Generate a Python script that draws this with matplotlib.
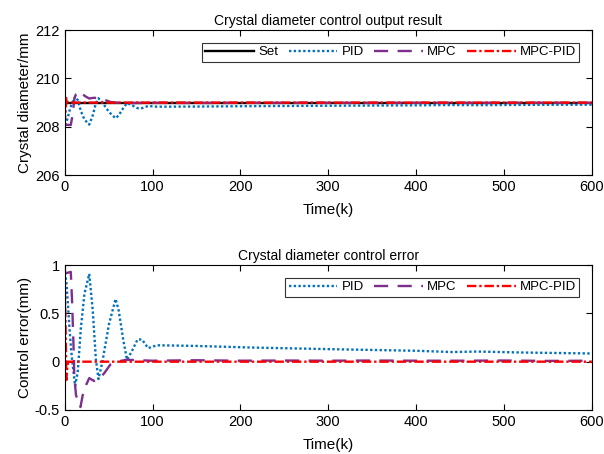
import matplotlib
matplotlib.use("Agg")
import matplotlib.pyplot as plt
import numpy as np

plt.rcParams['font.family'] = ['Liberation Sans', 'DejaVu Sans']

setpoint = 209.0
k_set = [0, 600]

k_pid = [0, 0.7, 2, 3.7, 5.5, 7.4, 10, 12, 15, 18.5, 22.5, 28, 32, 35.5, 38.5, 43, 50.5, 58,
         61.5, 67, 71, 76, 83, 88, 95, 105, 150, 211, 300, 400, 440, 470, 520, 600]
e_pid = [0.92, 0.9, 0.82, 0.6, 0.35, 0.12, -0.1, -0.25, -0.1, 0.35, 0.7, 0.91, 0.53, 0.03, -0.18, 0.0,
         0.39, 0.65, 0.53, 0.21, 0.02, 0.1, 0.23, 0.23, 0.14, 0.17, 0.163, 0.147, 0.13, 0.113, 0.1, 0.105, 0.095, 0.085]

k_mpc = [0, 3, 7, 8.5, 9.5, 10.5, 11, 13, 18, 20.5, 23.5, 28, 33.5, 39, 45, 52, 58, 65, 70,
         100, 150, 200, 250, 300, 350, 400, 450, 500, 550, 600]
e_mpc = [0.92, 0.92, 0.93, 0.62, 0.34, 0.05, -0.16, -0.35, -0.47, -0.35, -0.26, -0.17, -0.2, -0.18,
         -0.12, -0.03, 0.0, 0.01, 0.02, 0.01, 0.015, 0.01, 0.012, 0.01, 0.012, 0.01, 0.01, 0.012, 0.008, 0.01]

k_mpcpid = [0, 1, 2, 3, 4, 600]
e_mpcpid = [0.92, 0.4, -0.19, -0.05, 0.0, 0.0]

c_set = 'black'
c_pid = '#0072BD'
c_mpc = '#7E2F8E'
c_mp = '#FF0000'

ls_pid = (0, (1, 1))
ls_mpc = (0, (6, 4))
ls_mp = (0, (4, 1.2, 1, 1.2))

fig = plt.figure(figsize=(6.04, 4.54), dpi=100)
ax1 = fig.add_axes([0.107, 0.6145, 0.873, 0.319])
ax2 = fig.add_axes([0.107, 0.097, 0.873, 0.319])

lw = 1.7
ax1.plot(k_set, [setpoint, setpoint], color=c_set, lw=lw, label='Set')
ax1.plot(k_pid, setpoint - np.array(e_pid), color=c_pid, lw=lw, ls=ls_pid, label='PID')
ax1.plot(k_mpc, setpoint - np.array(e_mpc), color=c_mpc, lw=lw, ls=ls_mpc, label='MPC')
ax1.plot(k_mpcpid, setpoint - np.array(e_mpcpid), color=c_mp, lw=lw, ls=ls_mp, label='MPC-PID')

ax2.plot(k_pid, e_pid, color=c_pid, lw=lw, ls=ls_pid, label='PID')
ax2.plot(k_mpc, e_mpc, color=c_mpc, lw=lw, ls=ls_mpc, label='MPC')
ax2.plot(k_mpcpid, e_mpcpid, color=c_mp, lw=lw, ls=ls_mp, label='MPC-PID')

fs = 11
tfs = 10
ax1.set_xlim(0, 600)
ax1.set_ylim(206, 212)
ax1.set_yticks([206, 208, 210, 212])
ax1.set_xticks(range(0, 601, 100))
ax1.set_title('Crystal diameter control output result', fontsize=tfs, pad=4)
ax1.set_xlabel('Time(k)', fontsize=fs, labelpad=6.5)
ax1.set_ylabel('Crystal diameter/mm', fontsize=fs, labelpad=2)

ax2.set_xlim(0, 600)
ax2.set_ylim(-0.5, 1)
ax2.set_yticks([-0.5, 0, 0.5, 1])
ax2.set_yticklabels(['-0.5', '0', '0.5', '1'])
ax2.set_xticks(range(0, 601, 100))
ax2.set_title('Crystal diameter control error', fontsize=tfs, pad=4)
ax2.set_xlabel('Time(k)', fontsize=fs, labelpad=6.5)
ax2.set_ylabel('Control error(mm)', fontsize=fs, labelpad=2)

for ax in (ax1, ax2):
    ax.tick_params(direction='in', top=True, right=True, labelsize=10.5, length=4, width=0.8)
    for s in ax.spines.values():
        s.set_linewidth(0.8)

leg_kw = dict(fontsize=9.5, frameon=True, fancybox=False, edgecolor='black',
              handlelength=3.7, handletextpad=0.3, columnspacing=0.8, borderpad=0.25,
              borderaxespad=0.95)
l1 = ax1.legend(loc='upper right', ncol=4, **leg_kw)
l2 = ax2.legend(loc='upper right', ncol=3, **leg_kw)
for l in (l1, l2):
    l.get_frame().set_linewidth(0.8)

fig.savefig('out.png', dpi=100)
